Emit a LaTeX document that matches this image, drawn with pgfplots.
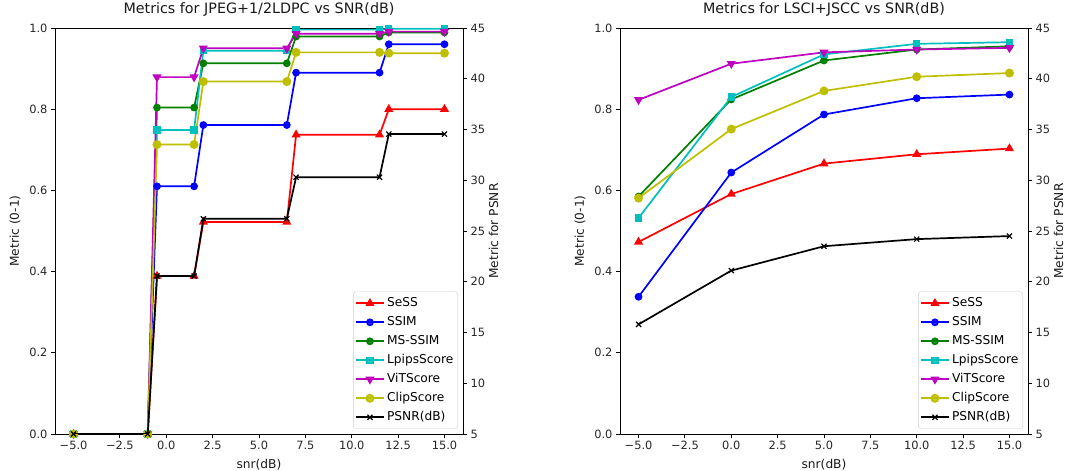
\documentclass[border=0pt]{standalone}
\usepackage{fontspec}
\setmainfont{DejaVu Sans}
\usepackage{pgfplots}
\pgfplotsset{compat=1.18}
\definecolor{mplg}{rgb}{0,0.5,0}
\definecolor{mplc}{rgb}{0,0.75,0.75}
\definecolor{mplm}{rgb}{0.75,0,0.75}
\definecolor{mply}{rgb}{0.75,0.75,0}
\newcommand{\tfont}{\fontsize{11.4}{13}\selectfont}
\newcommand{\lfont}{\fontsize{12.2}{14}\selectfont}
\pgfplotsset{
  common/.style={
    scale only axis, width=408pt, height=406pt,
    xmin=-6, xmax=16,
    tick align=outside, major tick length=4pt,
    every tick/.style={black, line width=0.9pt},
    axis line style={line width=0.9pt},
    ticklabel style={font=\tfont, text=black!85},
    label style={font=\lfont, text=black!90},
  },
  mainax/.style={common,
    ymin=0, ymax=1,
    xtick={-5,-2.5,0,2.5,5,7.5,10,12.5,15},
    xticklabels={−5.0,−2.5,0.0,2.5,5.0,7.5,10.0,12.5,15.0},
    ytick={0,0.2,0.4,0.6,0.8,1},
    yticklabels={0.0,0.2,0.4,0.6,0.8,1.0},
    xtick pos=left, ytick pos=left,
    xlabel={snr(dB)}, ylabel={Metric (0-1)},
    xlabel style={at={(axis description cs:0.5,0)}, anchor=base, yshift=-34.3pt},
    ylabel style={at={(axis description cs:-0.098,0.5)}, anchor=center, rotate=0},
    title style={at={(axis description cs:0.5,1)}, anchor=base, yshift=8pt, font=\fontsize{14.3}{16}\selectfont, text=black!90},
    legend style={at={(axis description cs:1,0)}, anchor=south east, xshift=-5pt, yshift=5pt,
      draw=black!20, rounded corners=3pt, fill=white, fill opacity=0.8, text opacity=1,
      font=\lfont, inner xsep=2pt, inner ysep=2pt, row sep=0pt,
      nodes={text height=8.8pt, text depth=2.6pt, inner ysep=3.8pt, inner xsep=2.5pt},
      cells={anchor=west}},
    legend image code/.code={\draw[mark repeat=2,mark phase=2] plot coordinates {(0pt,0pt) (13.8pt,0pt) (27.6pt,0pt)};},
    every axis plot/.append style={line width=1.7pt},
  },
  twinax/.style={common,
    ymin=5, ymax=45,
    axis y line*=right, axis x line=none,
    ytick={5,10,15,20,25,30,35,40,45},
    yticklabels={5,10,15,20,25,30,35,40,45},
    ylabel={Metric for PSNR},
    ylabel style={at={(axis description cs:1.075,0.5)}, anchor=center, rotate=0},
    every axis plot/.append style={line width=1.7pt},
  },
  sess/.style={red, mark=triangle*, mark size=3.6pt, mark options={solid}},
  ssim/.style={blue, mark=*, mark size=3pt, mark options={solid}},
  msssim/.style={mplg, mark=*, mark size=3pt, mark options={solid}},
  lpips/.style={mplc, mark=square*, mark size=2.8pt, mark options={solid}},
  vit/.style={mplm, mark=triangle*, mark size=3.6pt, mark options={solid, rotate=180}},
  clip/.style={mply, mark=*, mark size=3.6pt, mark options={solid}},
  psnr/.style={black, mark=x, mark size=3.6pt, mark options={solid, line width=1.2pt}},
}
\begin{document}
\begin{tikzpicture}
\useasboundingbox (0,0) rectangle (1066pt,471pt);
% ---------------- left ----------------
\begin{axis}[mainax, at={(55pt,37pt)}, anchor=south west,
  title={Metrics for JPEG+1/2LDPC vs SNR(dB)}]
\addplot[sess] coordinates {(-5,0) (-1,0) (-0.5,0.389) (1.5,0.389) (2,0.522) (6.5,0.522) (7,0.737) (11.5,0.737) (12,0.800) (15,0.800)};
\addlegendentry{SeSS}
\addplot[ssim] coordinates {(-5,0) (-1,0) (-0.5,0.610) (1.5,0.610) (2,0.761) (6.5,0.761) (7,0.890) (11.5,0.890) (12,0.960) (15,0.960)};
\addlegendentry{SSIM}
\addplot[msssim] coordinates {(-5,0) (-1,0) (-0.5,0.804) (1.5,0.804) (2,0.913) (6.5,0.913) (7,0.979) (11.5,0.979) (12,0.989) (15,0.989)};
\addlegendentry{MS-SSIM}
\addplot[lpips] coordinates {(-5,0) (-1,0) (-0.5,0.749) (1.5,0.749) (2,0.944) (6.5,0.944) (7,0.996) (11.5,0.996) (12,0.998) (15,0.998)};
\addlegendentry{LpipsScore}
\addplot[vit] coordinates {(-5,0) (-1,0) (-0.5,0.879) (1.5,0.879) (2,0.950) (6.5,0.950) (7,0.986) (11.5,0.986) (12,0.991) (15,0.991)};
\addlegendentry{ViTScore}
\addplot[clip] coordinates {(-5,0) (-1,0) (-0.5,0.713) (1.5,0.713) (2,0.868) (6.5,0.868) (7,0.940) (11.5,0.940) (12,0.938) (15,0.938)};
\addlegendentry{ClipScore}
\addlegendimage{psnr, line width=1.7pt}
\addlegendentry{PSNR(dB)}
\end{axis}
\begin{axis}[twinax, at={(55pt,37pt)}, anchor=south west]
\addplot[psnr] coordinates {(-5,5) (-1,5) (-0.5,20.56) (1.5,20.56) (2,26.2) (6.5,26.2) (7,30.3) (11.5,30.3) (12,34.55) (15,34.55)};
\end{axis}
% ---------------- right ----------------
\begin{axis}[mainax, at={(620pt,37pt)}, anchor=south west,
  title={Metrics for LSCI+JSCC vs SNR(dB)}]
\addplot[sess] coordinates {(-5,0.473) (0,0.591) (5,0.666) (10,0.689) (15,0.703)};
\addlegendentry{SeSS}
\addplot[ssim] coordinates {(-5,0.338) (0,0.644) (5,0.787) (10,0.827) (15,0.836)};
\addlegendentry{SSIM}
\addplot[msssim] coordinates {(-5,0.585) (0,0.824) (5,0.920) (10,0.947) (15,0.955)};
\addlegendentry{MS-SSIM}
\addplot[lpips] coordinates {(-5,0.532) (0,0.830) (5,0.935) (10,0.961) (15,0.965)};
\addlegendentry{LpipsScore}
\addplot[vit] coordinates {(-5,0.823) (0,0.912) (5,0.940) (10,0.947) (15,0.951)};
\addlegendentry{ViTScore}
\addplot[clip] coordinates {(-5,0.581) (0,0.751) (5,0.845) (10,0.880) (15,0.889)};
\addlegendentry{ClipScore}
\addlegendimage{psnr, line width=1.7pt}
\addlegendentry{PSNR(dB)}
\end{axis}
\begin{axis}[twinax, at={(620pt,37pt)}, anchor=south west]
\addplot[psnr] coordinates {(-5,15.8) (0,21.1) (5,23.5) (10,24.2) (15,24.5)};
\end{axis}
\end{tikzpicture}
\end{document}
